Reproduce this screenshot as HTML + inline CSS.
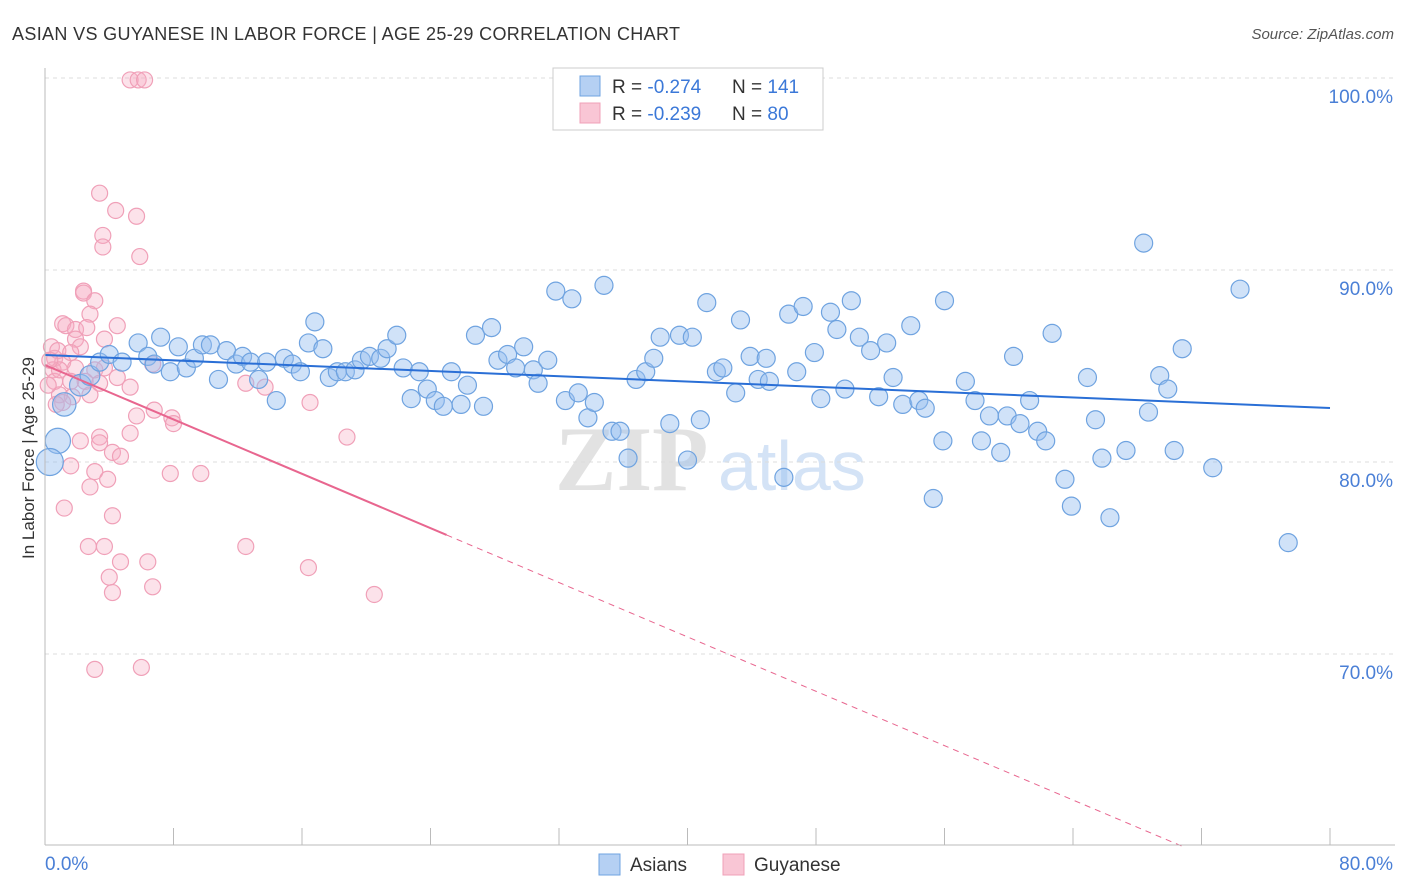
<!DOCTYPE html>
<html><head><meta charset="utf-8"><style>
body{margin:0;background:#fff;font-family:"Liberation Sans",sans-serif}
#wrap{position:relative;width:1406px;height:892px;overflow:hidden}
</style></head><body>
<div id="wrap">
<svg id="chart" width="1406" height="892" xmlns="http://www.w3.org/2000/svg">
<text x="12" y="40" font-size="18" fill="#333" textLength="668">ASIAN VS GUYANESE IN LABOR FORCE | AGE 25-29 CORRELATION CHART</text>
<text x="1394" y="39" font-size="15" fill="#555" font-style="italic" text-anchor="end">Source: ZipAtlas.com</text>
<text x="34" y="458" font-size="17" fill="#333" text-anchor="middle" transform="rotate(-90 34 458)">In Labor Force | Age 25-29</text>
<text x="555" y="490" font-size="92" fill="#e2e2e2" font-family="Liberation Serif,serif" font-weight="bold">ZIP</text>
<text x="718" y="490" font-size="70" fill="#d4e3f6">atlas</text>
<g id="grid"></g><g id="pts"></g><g id="trends"></g><g id="axes"></g>
<g>
<rect x="553" y="68" width="270" height="62" fill="#fff" stroke="#ccc"/>
<rect x="580" y="76" width="20" height="20" fill="#b5d0f3" stroke="#6fa3e0"/>
<rect x="580" y="103" width="20" height="20" fill="#f9c6d5" stroke="#f0a0b8"/>
<text x="612" y="93" font-size="19" fill="#333">R = <tspan fill="#3b78d8">-0.274</tspan></text>
<text x="732" y="93" font-size="19" fill="#333">N = <tspan fill="#3b78d8">141</tspan></text>
<text x="612" y="120" font-size="19" fill="#333">R = <tspan fill="#3b78d8">-0.239</tspan></text>
<text x="732" y="120" font-size="19" fill="#333">N = <tspan fill="#3b78d8"> 80</tspan></text>
</g>
<g>
<rect x="599" y="854" width="21" height="21" fill="#b5d0f3" stroke="#6fa3e0"/>
<text x="630" y="871" font-size="19" fill="#333">Asians</text>
<rect x="723" y="854" width="21" height="21" fill="#f9c6d5" stroke="#f0a0b8"/>
<text x="754" y="871" font-size="19" fill="#333">Guyanese</text>
</g>
</svg>
</div>
<script>
const asianX=[0.8,0.3,1.2,2.2,2.8,3.4,4.0,4.8,5.8,6.4,6.8,7.2,7.8,8.3,8.8,9.3,9.8,10.3,10.8,11.3,11.9,12.3,12.8,13.3,13.8,14.4,14.9,15.4,15.9,16.4,16.8,17.3,17.7,18.2,18.7,19.3,19.7,20.2,20.9,21.3,21.9,22.3,22.8,23.3,23.8,24.3,24.8,25.3,25.9,26.3,26.8,27.3,27.8,28.2,28.8,29.3,29.8,30.4,30.7,31.3,31.8,32.4,32.8,33.2,33.8,34.2,34.8,35.3,35.8,36.3,36.8,37.4,37.9,38.3,38.9,39.5,40.0,40.3,40.8,41.2,41.8,42.2,43.0,43.3,43.9,44.4,44.9,45.1,46.0,46.3,46.8,47.2,47.9,48.3,48.9,49.3,49.8,50.2,50.7,51.4,51.9,52.4,52.8,53.4,53.9,54.4,54.8,55.3,55.9,56.0,57.3,57.9,58.3,58.8,59.5,59.9,60.3,60.7,61.3,61.8,62.3,62.7,63.5,63.9,64.9,65.4,65.8,66.3,67.3,68.4,68.7,69.4,69.9,70.3,70.8,72.7,74.4,77.4];
const asianY=[81.1,80.0,83.0,84.0,84.5,85.2,85.6,85.2,86.2,85.5,85.1,86.5,84.7,86.0,84.9,85.4,86.1,86.1,84.3,85.8,85.1,85.5,85.2,84.3,85.2,83.2,85.4,85.1,84.7,86.2,87.3,85.9,84.4,84.7,84.7,84.8,85.3,85.5,85.4,85.9,86.6,84.9,83.3,84.7,83.8,83.2,82.9,84.7,83.0,84.0,86.6,82.9,87.0,85.3,85.6,84.9,86.0,84.8,84.1,85.3,88.9,83.2,88.5,83.6,82.3,83.1,89.2,81.6,81.6,80.2,84.3,84.7,85.4,86.5,82.0,86.6,80.1,86.5,82.2,88.3,84.7,84.9,83.6,87.4,85.5,84.3,85.4,84.2,79.2,87.7,84.7,88.1,85.7,83.3,87.8,86.9,83.8,88.4,86.5,85.8,83.4,86.2,84.4,83.0,87.1,83.2,82.8,78.1,81.1,88.4,84.2,83.2,81.1,82.4,80.5,82.4,85.5,82.0,83.2,81.6,81.1,86.7,79.1,77.7,84.4,82.2,80.2,77.1,80.6,91.4,82.6,84.5,83.8,80.6,85.9,79.7,89.0,75.8];
const asianWeight=[1.4,1.5,1.3,1.2,1.1];
const guyX=[5.3,5.8,6.2,3.4,4.4,5.7,3.6,3.6,5.9,2.4,2.4,3.1,2.8,1.1,1.3,1.9,2.6,4.5,3.7,1.9,0.4,2.2,0.6,0.8,1.6,1.1,0.5,1.9,3.1,3.7,0.6,1.6,2.5,3.4,5.3,4.5,0.9,1.7,1.1,2.8,6.8,5.7,7.9,8.0,2.2,3.4,5.3,3.4,4.2,4.7,1.6,3.1,3.9,2.8,7.8,9.7,1.2,4.2,2.7,3.7,4.7,6.4,4.0,4.2,6.7,12.5,13.7,12.5,16.5,16.4,18.8,20.5,3.1,6.0,0.9,0.3,0.2,0.7,6.7];
const guyY=[99.9,99.9,99.9,94.0,93.1,92.8,91.8,91.2,90.7,88.9,88.8,88.4,87.7,87.2,87.1,86.9,87.0,87.1,86.4,86.4,86.0,86.0,85.4,85.8,85.7,85.2,84.8,84.9,84.8,84.9,84.2,84.2,84.2,84.1,83.9,84.4,83.5,83.4,83.1,83.5,82.7,82.4,82.3,82.0,81.1,81.3,81.5,81.0,80.5,80.3,79.8,79.5,79.1,78.7,79.4,79.4,77.6,77.2,75.6,75.6,74.8,74.8,74.0,73.2,73.5,84.1,83.9,75.6,83.1,74.5,81.3,73.1,69.2,69.3,84.8,85.3,84.0,83.0,85.1];
const asianTrend=[85.57,82.81];
const guyTrend=[85.05,-0.354];
const yTicks=[100,90,80,70];
const xTicks=[0,8,16,24,32,40,48,56,64,72,80];

const NS='http://www.w3.org/2000/svg';
const sx=v=>45+v*(1285/80);
const sy=v=>78+(100-v)*19.2;
function mk(tag,attrs,parent){const e=document.createElementNS(NS,tag);for(const k in attrs)e.setAttribute(k,attrs[k]);parent.appendChild(e);return e;}
const grid=document.getElementById('grid'),axes=document.getElementById('axes'),pts=document.getElementById('pts'),tr=document.getElementById('trends');
yTicks.forEach(t=>{
 const l=mk('line',{x1:45,x2:1395,y1:sy(t),y2:sy(t),stroke:'#dcdcdc','stroke-dasharray':'4 4'},grid);
 
 
 const tx=mk('text',{x:1393,y:sy(t)+25,'font-size':19,fill:'#4a7fd6','text-anchor':'end'},axes);
 tx.textContent=t.toFixed(1)+'%';
 
 
});
const ya=mk('line',{x1:45,x2:45,y1:68,y2:845,stroke:'#bbb'},axes);


const xa=mk('line',{x1:45,x2:1395,y1:845,y2:845,stroke:'#bbb'},axes);


xTicks.forEach(t=>{
 const l=mk('line',{x1:sx(t),x2:sx(t),y1:828,y2:845,stroke:'#bbb'},axes);
 
 
});
[[0,'start'],[80,'end']].forEach(([t,a])=>{
 const tx=mk('text',{x:t===0?45:1393,y:870,'font-size':19,fill:'#4a7fd6','text-anchor':a},axes);
 tx.textContent=t.toFixed(1)+'%';
 
 
});
guyX.forEach((x,i)=>{
 const c=mk('circle',{cx:sx(x),cy:sy(guyY[i]),r:8,fill:'rgba(246,172,196,0.35)',stroke:'#f0a0b8','stroke-width':1.2},pts);
 
 
});
asianX.forEach((x,i)=>{
 const c=mk('circle',{cx:sx(x),cy:sy(asianY[i]),r:9*(asianWeight[i]||1),fill:'rgba(150,190,240,0.45)',stroke:'#6fa3e0','stroke-width':1.2},pts);
 
 
});
const bl=mk('line',{x1:sx(0),y1:sy(asianTrend[0]),x2:sx(80),y2:sy(asianTrend[1]),stroke:'#2a6fd6','stroke-width':2},tr);


const gy=x=>guyTrend[0]+guyTrend[1]*x;
const pl=mk('line',{x1:sx(0),y1:sy(gy(0)),x2:sx(25),y2:sy(gy(25)),stroke:'#e8668f','stroke-width':2},tr);


const xEnd=(60-guyTrend[0])/guyTrend[1];
const pd=mk('line',{x1:sx(25),y1:sy(gy(25)),x2:sx(xEnd),y2:sy(gy(xEnd)),stroke:'#e8668f','stroke-width':1,'stroke-dasharray':'6 5'},tr);


</script>
</body></html>
